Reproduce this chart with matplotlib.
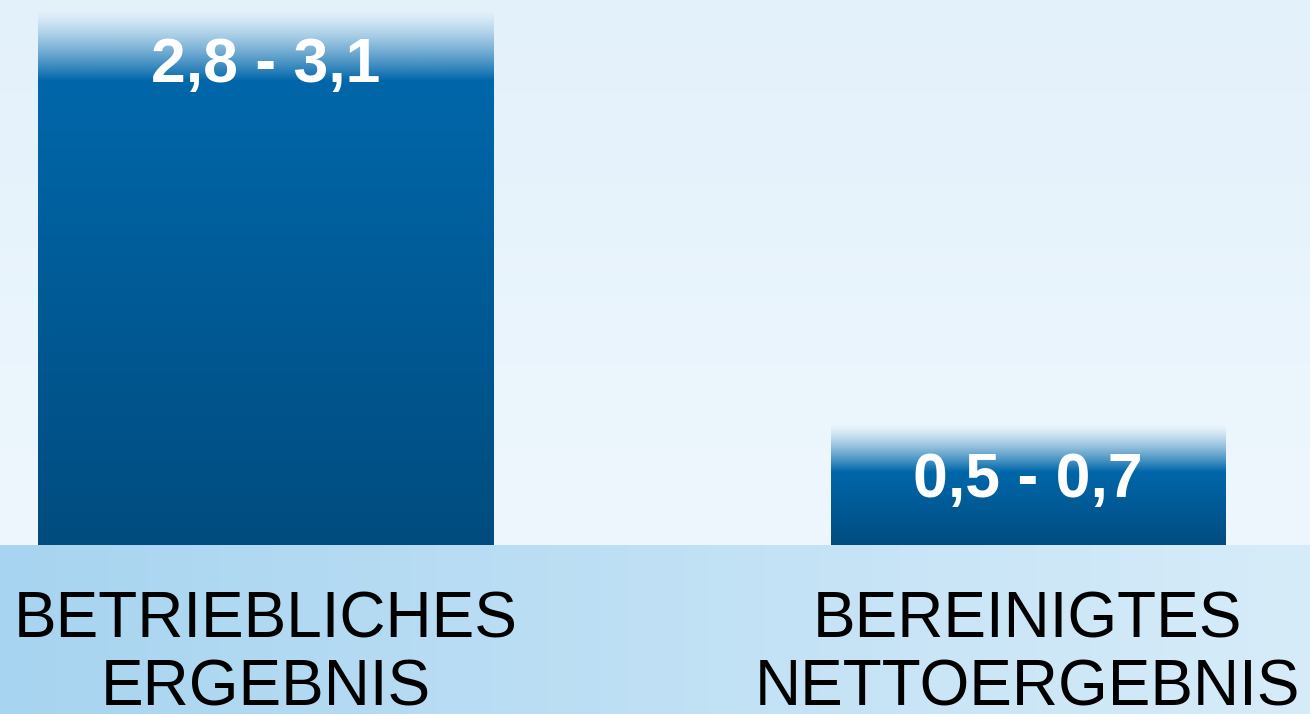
import numpy as np
import matplotlib.pyplot as plt
from matplotlib.colors import to_rgb
from matplotlib.transforms import blended_transform_factory

categories = ["BETRIEBLICHES\nERGEBNIS", "BEREINIGTES\nNETTOERGEBNIS"]
upper = [3.1, 0.7]
value_labels = ["2,8 - 3,1", "0,5 - 0,7"]

W, H = 1310, 714
BASE = 545   # pixel row of the baseline
TOP = 10     # pixel row of the axes top

fig = plt.figure(figsize=(W / 100, H / 100), dpi=100)

# background: light sky gradient above, stronger band below the bars
bg = fig.add_axes([0, 0, 1, 1])
bg.set_axis_off()
img = np.zeros((H, W, 3))
t = np.linspace(0, 1, BASE)[:, None, None]
c1, c2 = np.array(to_rgb("#e3f1fb")), np.array(to_rgb("#eef7fd"))
img[:BASE] = c1 + (c2 - c1) * t
s = np.linspace(0, 1, W)[None, :, None]
b1, b2 = np.array(to_rgb("#a7d4f0")), np.array(to_rgb("#d7ecf9"))
img[BASE:] = b1 + (b2 - b1) * s
bg.imshow(img, aspect="auto", extent=(0, 1, 0, 1))
bg.set_xlim(0, 1)
bg.set_ylim(0, 1)

ax = fig.add_axes([0, 1 - BASE / H, 1, (BASE - TOP) / H])
ax.set_facecolor("none")
ax.set_axis_off()

widths = [0.597, 0.517]
fades = [70, 47]  # pixel height of the soft top edge
bars = ax.bar(range(len(upper)), upper, width=widths, color="none")
ymax = 3.1
px_per_unit = (BASE - TOP) / ymax

blue_top = np.array(to_rgb("#0067aa"))
blue_bot = np.array(to_rgb("#004c7f"))
for rect, fade in zip(bars, fades):
    h = rect.get_height()
    n = int(round(h * px_per_unit))
    grad = np.zeros((n, 1, 4))
    for r in range(n):
        if r < fade:
            grad[r, 0, :3] = blue_top
            grad[r, 0, 3] = (r / fade) ** 1.3
        else:
            f = (r - fade) / max(n - fade, 1)
            grad[r, 0, :3] = blue_top + (blue_bot - blue_top) * f
            grad[r, 0, 3] = 1
    x0 = rect.get_x()
    im = ax.imshow(grad, aspect="auto", extent=(x0, x0 + rect.get_width(), 0, h),
                   zorder=2)
    im.set_clip_path(rect)

ax.set_xlim(-0.348, 1.370)
ax.set_ylim(0, ymax)

for i, (h, lab) in enumerate(zip(upper, value_labels)):
    ax.annotate(lab, xy=(i, h), xytext=(0, -56), textcoords="offset pixels",
                ha="center", va="center", color="white", fontsize=45,
                fontweight="bold", family="Liberation Sans", zorder=3)

trans = blended_transform_factory(ax.transData, fig.transFigure)
baselines = [637, 706]
for i, cat in enumerate(categories):
    for line, yb in zip(cat.split("\n"), baselines):
        ax.text(i, 1 - yb / H, line, transform=trans, ha="center",
                va="baseline", fontsize=46, family="Liberation Sans",
                color="black", clip_on=False)

fig.savefig("out.png", dpi=100)
